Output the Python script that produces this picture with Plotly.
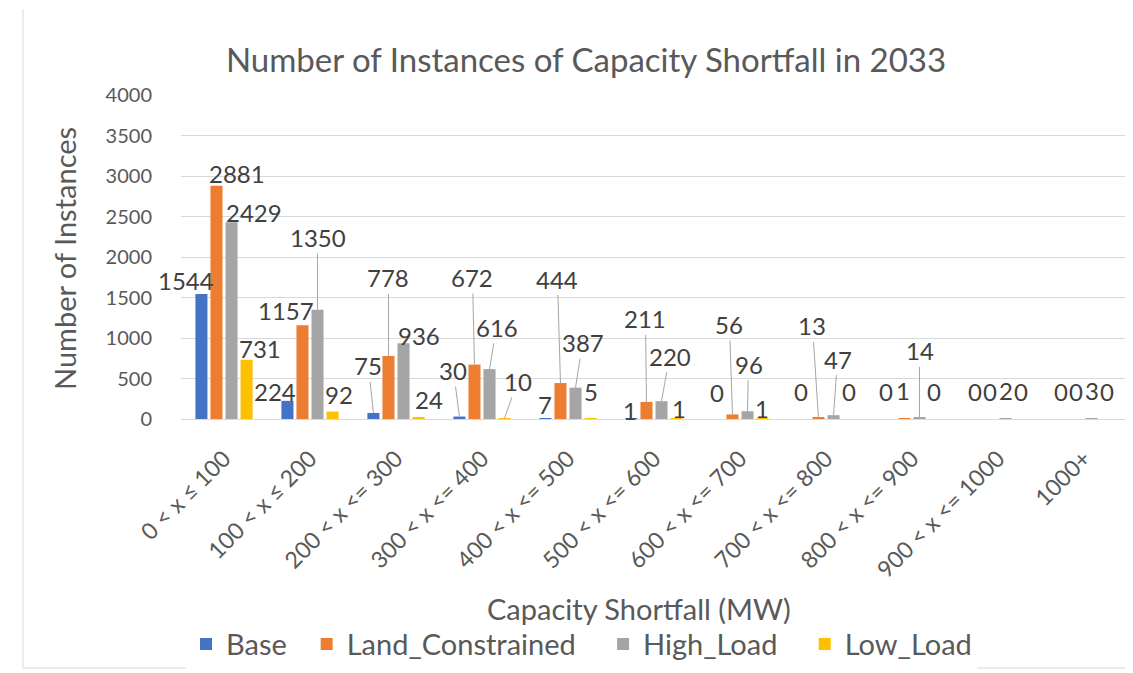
import plotly.graph_objects as go

categories = ["0 < x ≤ 100", "100 < x ≤ 200", "200 < x <= 300", "300 < x <= 400",
              "400 < x <= 500", "500 < x <= 600", "600 < x <= 700", "700 < x <= 800",
              "800 < x <= 900", "900 < x <= 1000", "1000+"]
base = [1544, 224, 75, 30, 7, 1, 0, 0, 0, 0, 0]
land_constrained = [2881, 1157, 778, 672, 444, 211, 56, 13, 1, 0, 0]
high_load = [2429, 1350, 936, 616, 387, 220, 96, 47, 14, 2, 3]
low_load = [731, 92, 24, 10, 5, 1, 1, 0, 0, 0, 0]

series_names = ["Base", "Land_Constrained", "High_Load", "Low_Load"]
series_values = [base, land_constrained, high_load, low_load]
colors = ["#4472C4", "#ED7D31", "#A5A5A5", "#FFC000"]
# extra legend spacing after each entry (non-breaking spaces)
legend_pad = [2, 3, 3, 0]

# label placement (dx, dy in px from bar top centre, leader line flag) per series/category
label_pos = [
    [(-15, -13, 0), (-12, -9, 0), (-5, -47, 1), (-6, -46, 1), (0, -14, 0), (-1, -8, 0),
     (0, -27, 0), (-2, -28, 0), (-3, -28, 0), (0, -28, 0), (0, -28, 0)],
    [(21, -12, 0), (-16, -15, 0), (0, -78, 1), (-2, -87, 1), (-3, -104, 1), (-1, -83, 1),
     (-3, -90, 1), (-6, -92, 1), (-1, -28, 0), (0, -28, 0), (0, -28, 0)],
    [(22, -10, 0), (0, -72, 1), (15, -8, 0), (7, -42, 1), (7, -45, 1), (8, -45, 1),
     (1, -47, 1), (4, -56, 1), (0, -67, 1), (0, -28, 0), (0, -28, 0)],
    [(13, -11, 0), (6, -17, 0), (10, -18, 0), (13, -37, 1), (0, -27, 0), (2, -10, 0),
     (-1, -10, 0), (0, -28, 0), (-1, -28, 0), (0, -28, 0), (0, -28, 0)],
]

FONT = "Lato"
TXT = "#595959"
W, H = 1133, 673
ML, MR, MT, MB = 173, 14, 87, 258
plot_w = W - ML - MR
plot_h = H - MT - MB
BARGAP = 0.3
BARGROUPGAP = 0.2

fig = go.Figure()
for name, vals, col, pad in zip(series_names, series_values, colors, legend_pad):
    fig.add_trace(go.Bar(x=categories, y=vals, name=name + "\u00a0" * pad,
                         marker_color=col, marker_line_width=0,
                         hovertemplate=name + ": %{y}<extra></extra>"))

cat_w = plot_w / len(categories)
slot = cat_w * (1 - BARGAP) / len(series_names)

annotations = []
for k, vals in enumerate(series_values):
    off = (k - 1.5) * slot
    for i, v in enumerate(vals):
        dx, dy, lead = label_pos[k][i]
        if lead:
            annotations.append(dict(x=categories[i], y=v, xref="x", yref="y", text=str(v),
                                    showarrow=True, arrowhead=0, arrowwidth=1,
                                    arrowcolor="#A6A6A6", ax=dx, ay=dy, xshift=off,
                                    font=dict(family=FONT, size=24, color="#404040")))
        else:
            annotations.append(dict(x=categories[i], y=v, xref="x", yref="y", text=str(v),
                                    showarrow=False, xshift=off + dx, yshift=-dy,
                                    xanchor="center", yanchor="middle",
                                    font=dict(family=FONT, size=24, color="#404040")))

def px_to_paper_x(px):
    return (px - ML) / plot_w

def px_to_paper_y(py):
    return (H - MB - py) / plot_h

annotations.append(dict(text="Number of Instances", textangle=-90, xref="paper", yref="paper",
                        x=px_to_paper_x(57), y=px_to_paper_y(253), showarrow=False,
                        xanchor="center", yanchor="middle",
                        font=dict(family=FONT, size=29, color=TXT)))
annotations.append(dict(text="Capacity Shortfall (MW)", xref="paper", yref="paper",
                        x=px_to_paper_x(631), y=px_to_paper_y(607), showarrow=False,
                        xanchor="center", yanchor="middle",
                        font=dict(family=FONT, size=29, color=TXT)))

fig.update_layout(
    width=W, height=H,
    margin=dict(l=ML, r=MR, t=MT, b=MB),
    paper_bgcolor="white", plot_bgcolor="white",
    barmode="group", bargap=BARGAP, bargroupgap=BARGROUPGAP,
    title=dict(text="Number of Instances of Capacity Shortfall in 2033",
               xref="container", yref="container", x=578 / W, y=1 - 52 / H,
               xanchor="center", yanchor="middle",
               font=dict(family=FONT, size=33, color=TXT)),
    font=dict(family=FONT, color=TXT),
    yaxis=dict(range=[0, 4000], dtick=500, showgrid=True, gridcolor="#D9D9D9",
               gridwidth=1, zeroline=False, showline=False, ticks="",
               ticklabelstandoff=28, tickfont=dict(family=FONT, size=20, color=TXT)),
    xaxis=dict(range=[-0.5, len(categories) - 0.5], autorange=False,
               tickangle=-45, showline=True, linecolor="#D9D9D9", linewidth=1,
               ticks="", ticklabelstandoff=16,
               tickfont=dict(family=FONT, size=23, color=TXT)),
    legend=dict(orientation="h", xref="paper", yref="paper",
                x=px_to_paper_x(178), y=px_to_paper_y(643),
                xanchor="left", yanchor="middle",
                font=dict(family=FONT, size=29, color=TXT),
                itemwidth=30, traceorder="normal"),
    annotations=annotations,
    shapes=[dict(type="line", xref="paper", yref="paper",
                 x0=px_to_paper_x(15), x1=px_to_paper_x(15),
                 y0=px_to_paper_y(0), y1=px_to_paper_y(667),
                 line=dict(color="#D9D9D9", width=1)),
            dict(type="line", xref="paper", yref="paper",
                 x0=px_to_paper_x(15), x1=px_to_paper_x(1133),
                 y0=px_to_paper_y(667), y1=px_to_paper_y(667),
                 line=dict(color="#D9D9D9", width=1))],
)

fig.write_html("out.html")
